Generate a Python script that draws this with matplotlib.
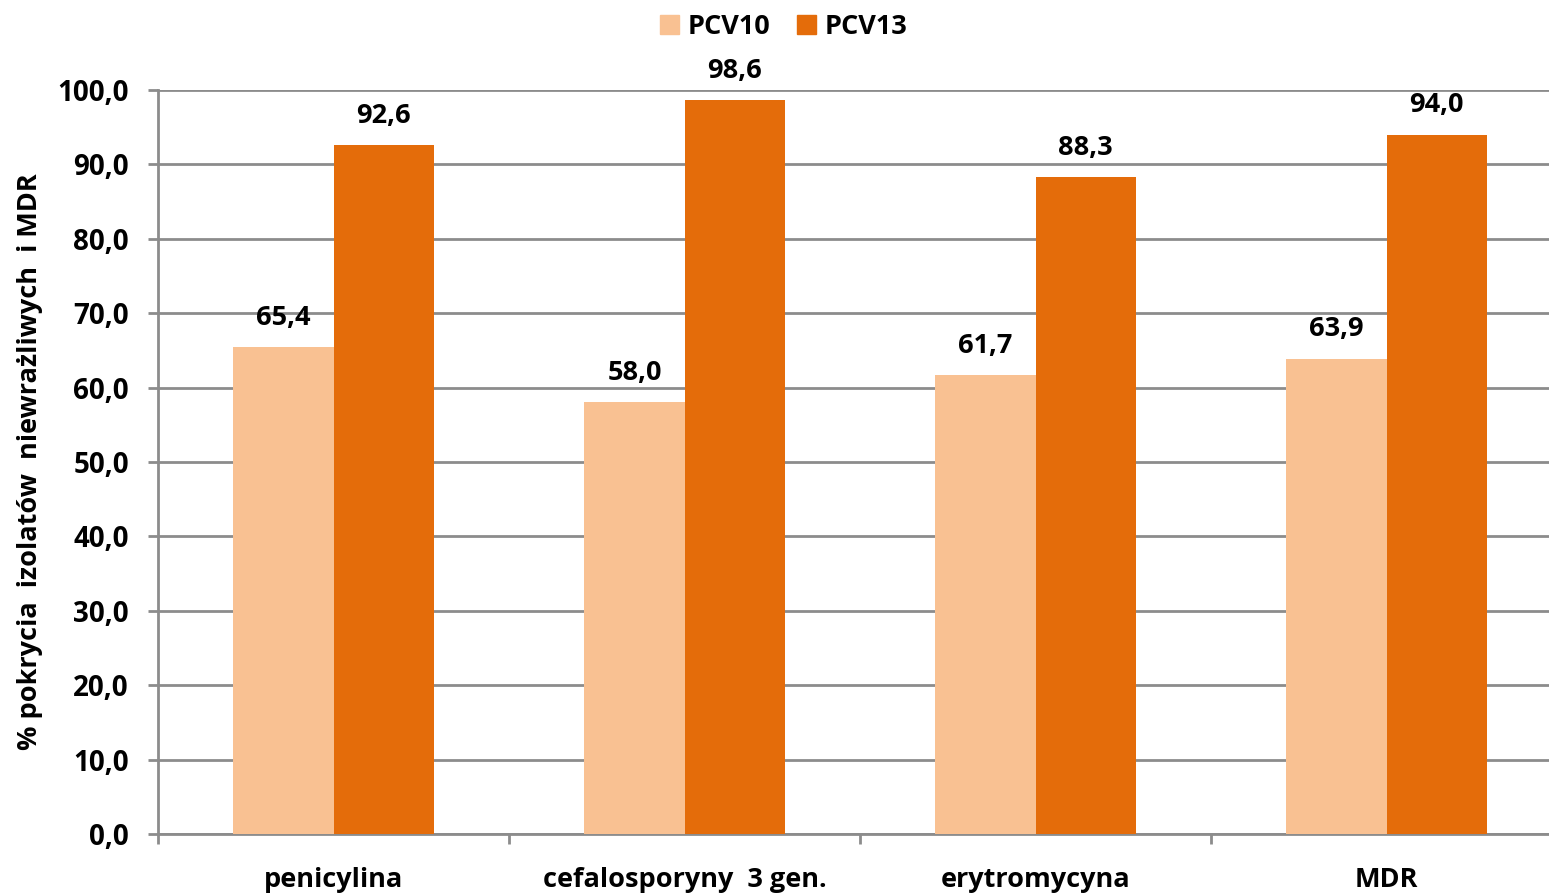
import numpy as np
import matplotlib.pyplot as plt
from matplotlib.patches import Patch

plt.rcParams['font.family'] = ['Open Sans', 'DejaVu Sans']
plt.rcParams['font.weight'] = 'bold'

# dane
categories = ['penicylina', 'cefalosporyny  3 gen.', 'erytromycyna', 'MDR']
pcv10 = [65.4, 58.0, 61.7, 63.9]
pcv13 = [92.6, 98.6, 88.3, 94.0]
series_names = ['PCV10', 'PCV13']
colors = ['#F9C192', '#E46C0A']
grid_color = '#8C8C8C'

fig = plt.figure(figsize=(15.49, 8.94), dpi=100)
W, H = 1549, 894
ax = fig.add_axes([158 / W, 60 / H, 1404 / W, 744 / H])

x = np.arange(len(categories))
bw = 0.285
b1 = ax.bar(x - bw, pcv10, width=bw, align='edge', color=colors[0], zorder=3)
b2 = ax.bar(x, pcv13, width=bw, align='edge', color=colors[1], zorder=3)

def fmt(v):
    return f'{v:.1f}'.replace('.', ',')

for bars, vals in [(b1, pcv10), (b2, pcv13)]:
    for r, v in zip(bars, vals):
        ax.text(r.get_x() + r.get_width() / 2, v + 3.0, fmt(v),
                ha='center', va='baseline', fontsize=19.5, fontweight='bold')

ax.set_xlim(-0.5, len(categories) - 0.5)
ax.set_ylim(0, 100)
yt = np.arange(0, 101, 10)
ax.set_yticks(yt)
ax.set_yticklabels([fmt(v) for v in yt], fontsize=20, fontweight='bold')
ax.yaxis.grid(True, color=grid_color, linewidth=2, zorder=0)

ax.set_xticks(x)
ax.set_xticklabels(categories, fontsize=19.5, fontweight='bold')
ax.set_xticks(np.arange(-0.5, len(categories) - 0.5, 1.0), minor=True)
ax.tick_params(axis='x', which='major', length=0, pad=24)
ax.tick_params(axis='x', which='minor', length=7, width=2, color=grid_color)
ax.tick_params(axis='y', length=7, width=2, color=grid_color, pad=14)

for s in ['top', 'right']:
    ax.spines[s].set_visible(False)
for s in ['left', 'bottom']:
    ax.spines[s].set_color(grid_color)
    ax.spines[s].set_linewidth(2)

ax.set_ylabel('% pokrycia  izolatów  niewrażliwych  i MDR', fontsize=19.5,
              fontweight='bold', labelpad=10)

handles = [Patch(color=c, label=n) for c, n in zip(colors, series_names)]
fig.legend(handles=handles, loc='upper center', bbox_to_anchor=(0.506, 1.012),
           ncol=2, frameon=False, prop={'size': 19.5, 'weight': 'bold'},
           handlelength=0.7, handleheight=0.7, handletextpad=0.3,
           columnspacing=1.0)

fig.savefig('out.png', dpi=100)
